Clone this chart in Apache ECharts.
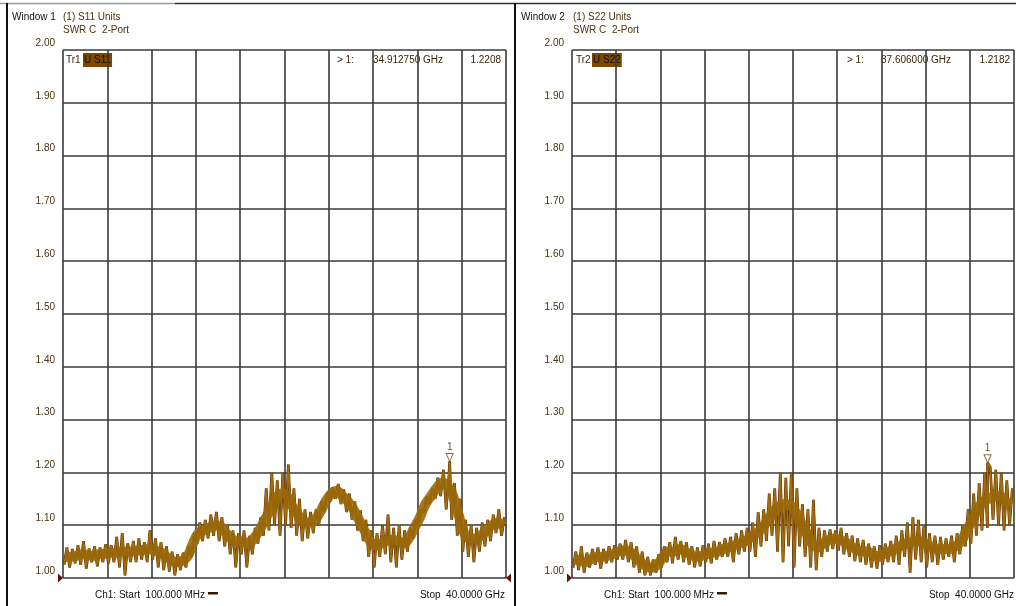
<!DOCTYPE html>
<html><head><meta charset="utf-8">
<script src="https://cdn.jsdelivr.net/npm/echarts@6/dist/echarts.min.js"></script>
<style>html,body{margin:0;padding:0;background:#fff}#c{width:1016px;height:606px}</style>
</head><body><div id="c"></div>
<script>
// ---- data ----
const yTickLabels = ['1.00','1.10','1.20','1.30','1.40','1.50','1.60','1.70','1.80','1.90','2.00'];
const sweepStartGHz = 0.1;
const sweepStepGHz = 0.5;
const sweepStopGHz = 40;
// S11 SWR trace: upper / lower noise extremes and band centre, read every 0.5 GHz
const s11Hi = [1.058,1.055,1.062,1.07,1.056,1.06,1.058,1.064,1.062,1.078,
  1.085,1.066,1.07,1.075,1.068,1.09,1.075,1.068,1.06,1.05,
  1.045,1.048,1.06,1.085,1.105,1.11,1.12,1.125,1.115,1.10,
  1.09,1.085,1.09,1.08,1.095,1.115,1.17,1.20,1.185,1.20,
  1.215,1.17,1.15,1.13,1.125,1.13,1.145,1.16,1.172,1.178,
  1.168,1.16,1.145,1.128,1.11,1.09,1.085,1.10,1.12,1.095,
  1.10,1.09,1.095,1.11,1.13,1.155,1.17,1.19,1.205,1.195,
  1.18,1.15,1.11,1.10,1.095,1.105,1.11,1.12,1.13,1.115];
const s11Lo = [1.025,1.02,1.028,1.025,1.018,1.03,1.022,1.03,1.028,1.03,
  1.02,1.005,1.03,1.03,1.035,1.03,1.035,1.02,1.015,1.012,
  1.005,1.015,1.02,1.04,1.065,1.07,1.075,1.08,1.07,1.06,
  1.045,1.02,1.045,1.02,1.045,1.065,1.08,1.09,1.10,1.08,
  1.10,1.095,1.08,1.07,1.075,1.085,1.10,1.125,1.145,1.15,
  1.14,1.125,1.11,1.09,1.07,1.04,1.02,1.04,1.045,1.03,
  1.02,1.035,1.05,1.075,1.10,1.125,1.14,1.15,1.155,1.13,
  1.11,1.08,1.05,1.04,1.03,1.05,1.06,1.07,1.085,1.08];
const s11Mid = [1.04,1.04,1.042,1.045,1.043,1.042,1.045,1.046,1.048,1.047,
  1.05,1.05,1.05,1.052,1.053,1.055,1.052,1.05,1.042,1.035,
  1.03,1.032,1.04,1.065,1.085,1.09,1.095,1.10,1.098,1.085,
  1.075,1.068,1.07,1.065,1.075,1.09,1.11,1.13,1.15,1.16,
  1.155,1.135,1.12,1.108,1.105,1.11,1.125,1.145,1.16,1.165,
  1.155,1.145,1.13,1.11,1.09,1.07,1.062,1.065,1.07,1.072,
  1.07,1.065,1.075,1.095,1.115,1.14,1.155,1.17,1.18,1.175,
  1.155,1.12,1.085,1.075,1.075,1.08,1.09,1.10,1.105,1.098];
// S22 SWR trace
const s22Hi = [1.05,1.06,1.048,1.055,1.058,1.055,1.06,1.062,1.065,1.072,
  1.068,1.06,1.05,1.04,1.035,1.045,1.06,1.068,1.078,1.07,
  1.068,1.06,1.058,1.062,1.065,1.07,1.068,1.075,1.078,1.085,
  1.09,1.095,1.105,1.125,1.13,1.16,1.17,1.20,1.19,1.20,
  1.17,1.14,1.13,1.148,1.095,1.09,1.092,1.09,1.095,1.085,
  1.08,1.075,1.072,1.065,1.06,1.062,1.065,1.07,1.08,1.09,
  1.105,1.115,1.11,1.10,1.085,1.08,1.078,1.075,1.08,1.085,
  1.10,1.13,1.16,1.18,1.20,1.21,1.205,1.20,1.185,1.17];
const s22Lo = [1.02,1.015,1.01,1.02,1.025,1.018,1.028,1.03,1.035,1.035,
  1.03,1.02,1.01,1.005,1.005,1.01,1.02,1.03,1.028,1.035,
  1.03,1.025,1.02,1.022,1.03,1.028,1.035,1.04,1.04,1.03,
  1.045,1.05,1.05,1.04,1.06,1.07,1.08,1.05,1.03,1.06,
  1.02,1.06,1.04,1.02,1.015,1.04,1.05,1.055,1.052,1.045,
  1.04,1.032,1.03,1.025,1.02,1.018,1.025,1.03,1.03,1.025,
  1.04,1.01,1.035,1.03,1.02,1.03,1.025,1.035,1.04,1.03,
  1.045,1.06,1.065,1.08,1.09,1.095,1.11,1.10,1.09,1.10];
const s22Mid = [1.035,1.033,1.03,1.036,1.04,1.04,1.042,1.045,1.05,1.052,
  1.05,1.04,1.03,1.022,1.02,1.025,1.04,1.05,1.05,1.055,
  1.05,1.045,1.04,1.042,1.045,1.048,1.05,1.055,1.058,1.062,
  1.066,1.07,1.078,1.085,1.095,1.11,1.125,1.135,1.14,1.138,
  1.125,1.105,1.085,1.065,1.058,1.065,1.072,1.075,1.072,1.068,
  1.06,1.055,1.05,1.05,1.045,1.04,1.045,1.05,1.055,1.06,
  1.065,1.068,1.07,1.068,1.062,1.058,1.055,1.055,1.055,1.06,
  1.07,1.09,1.11,1.13,1.145,1.15,1.155,1.155,1.145,1.138];
const s11Marker = [34.912750, 1.2208];
const s22Marker = [37.606000, 1.2182];

// ---- build ----
function buildTrace(hi, lo, marker) {
  const pts = [];
  for (let i = 0; i < hi.length; i++) {
    const f = sweepStartGHz + i * sweepStepGHz;
    pts.push([f, lo[i]]);
    pts.push([f + sweepStepGHz / 2, hi[i]]);
  }
  pts.push(marker.slice());
  pts.sort((a, b) => a[0] - b[0]);
  return pts;
}
function buildCore(mid) {
  return mid.map((v, i) => [sweepStartGHz + i * sweepStepGHz + sweepStepGHz / 4, v]);
}
const s11Trace = buildTrace(s11Hi, s11Lo, s11Marker);
const s22Trace = buildTrace(s22Hi, s22Lo, s22Marker);
const s11Core = buildCore(s11Mid);
const s22Core = buildCore(s22Mid);

const FONT = '"Liberation Sans", Arial, sans-serif';
const BROWN = '#4e330c';
const GRIDC = '#3a3a3a';
const DARK = '#5a2f00';
const LIGHT = '#a06c0c';
const CORE = '#9a6808';

function xAx(i) {
  return { type: 'value', gridIndex: i, min: 0, max: sweepStopGHz, interval: 4,
    axisLine: { show: false }, axisTick: { show: false }, axisLabel: { show: false },
    splitLine: { show: true, lineStyle: { color: GRIDC, width: 1.6 } } };
}
function yAx(i) {
  return { type: 'value', gridIndex: i, min: 1, max: 2, interval: 0.1,
    axisLine: { show: false }, axisTick: { show: false },
    axisLabel: { show: true, color: '#4a3410', fontSize: 10, fontFamily: FONT, margin: 8,
      verticalAlign: 'bottom', padding: [0, 0, 2, 0],
      formatter: (v) => yTickLabels[Math.round((v - 1) * 10)] },
    splitLine: { show: true, lineStyle: { color: GRIDC, width: 1.6 } } };
}
const endRight = 'path://M0,0L6,5L0,10Z';
const endLeft = 'path://M6,0L0,5L6,10Z';
function traceSeries(i, data, core, ends) {
  return [
    { type: 'line', xAxisIndex: i, yAxisIndex: i, data, symbol: 'none', silent: true,
      lineStyle: { color: DARK, width: 2.7 }, animation: false,
      markPoint: { silent: true, animation: false, label: { show: false },
        itemStyle: { color: '#5a1500' },
        data: ends } },
    { type: 'line', xAxisIndex: i, yAxisIndex: i, data, symbol: 'none', silent: true,
      lineStyle: { color: LIGHT, width: 1.7 }, animation: false },
    { type: 'line', xAxisIndex: i, yAxisIndex: i, data: core, symbol: 'none', silent: true,
      smooth: 0.4, lineStyle: { color: CORE, width: 10, opacity: 0.9, cap: 'butt', join: 'round' }, animation: false }
  ];
}
function markerSeries(i, m) {
  return { type: 'scatter', xAxisIndex: i, yAxisIndex: i, data: [m], silent: true, animation: false,
    symbol: 'path://M0,0L10,0L5,11Z', symbolSize: [7, 8], symbolOffset: [0, -4],
    itemStyle: { color: '#ffffff', borderColor: '#6a4a10', borderWidth: 1 },
    label: { show: true, formatter: '1', position: 'top', distance: 1, color: '#3d2404', fontSize: 10, fontFamily: FONT },
    clip: false, z: 5 };
}
function T(x, y, text, fill, align, extra) {
  return { type: 'text', x, y, silent: true,
    style: Object.assign({ text, fill, font: '10px ' + FONT, align: align || 'left', verticalAlign: 'middle' }, extra || {}) };
}
function R(x, y, w, h, fill) {
  return { type: 'rect', silent: true, shape: { x, y, width: w, height: h }, style: { fill } };
}
function L(x1, y1, x2, y2, stroke, w) {
  return { type: 'line', silent: true, shape: { x1, y1, x2, y2 }, style: { stroke, lineWidth: w } };
}
const boxStyle = { backgroundColor: '#7a4800', padding: [2, 1, 2, 1] };

const option = {
  animation: false,
  backgroundColor: '#ffffff',
  grid: [
    { left: 63, top: 50, width: 443, height: 528 },
    { left: 572, top: 50, width: 442, height: 528 }
  ],
  xAxis: [xAx(0), xAx(1)],
  yAxis: [yAx(0), yAx(1)],
  series: [
    ...traceSeries(0, s11Trace, s11Core, [
      { coord: [0, 1], symbol: endRight, symbolSize: [5, 9], symbolOffset: [-2.5, 0] },
      { coord: [sweepStopGHz, 1], symbol: endLeft, symbolSize: [5, 9], symbolOffset: [2.5, 0] }
    ]),
    markerSeries(0, s11Marker),
    ...traceSeries(1, s22Trace, s22Core, [
      { coord: [0, 1], symbol: endRight, symbolSize: [5, 9], symbolOffset: [-2.5, 0] }
    ]),
    markerSeries(1, s22Marker)
  ],
  graphic: [
    L(0, 3.5, 175, 3.5, '#9a9a9a', 1.5),
    L(175, 3.5, 1016, 3.5, '#333333', 1.5),
    L(7, 3, 7, 606, '#111111', 2),
    L(515, 3, 515, 606, '#111111', 2),
    // window 1 header
    T(12, 17, 'Window 1', '#111111'),
    T(63, 17, '(1) S11 Units', BROWN),
    T(63, 30, 'SWR C  2-Port', BROWN),
    T(66, 60, 'Tr1', '#3d2404'),
    T(83, 60, 'U S11', '#1a0d00', 'left', boxStyle),
    T(337, 60, '> 1:', '#3d2404'),
    T(373, 60, s11Marker[0].toFixed(6) + ' GHz', '#3d2404'),
    T(501, 60, s11Marker[1].toFixed(4), '#3d2404', 'right'),
    T(95, 595, 'Ch1: Start  100.000 MHz', '#111111'),
    R(208, 592, 10, 2.5, '#3a1a00'),
    T(505, 595, 'Stop  40.0000 GHz', '#111111', 'right'),
    // window 2 header
    T(521, 17, 'Window 2', '#111111'),
    T(573, 17, '(1) S22 Units', BROWN),
    T(573, 30, 'SWR C  2-Port', BROWN),
    T(576, 60, 'Tr2', '#3d2404'),
    T(592, 60, 'U S22', '#1a0d00', 'left', boxStyle),
    T(847, 60, '> 1:', '#3d2404'),
    T(881, 60, s22Marker[0].toFixed(6) + ' GHz', '#3d2404'),
    T(1010, 60, s22Marker[1].toFixed(4), '#3d2404', 'right'),
    T(604, 595, 'Ch1: Start  100.000 MHz', '#111111'),
    R(717, 592, 10, 2.5, '#3a1a00'),
    T(1014, 595, 'Stop  40.0000 GHz', '#111111', 'right')
  ]
};
const chart = echarts.init(document.getElementById('c'), null, { renderer: 'canvas' });
chart.setOption(option);
</script>
</body></html>
